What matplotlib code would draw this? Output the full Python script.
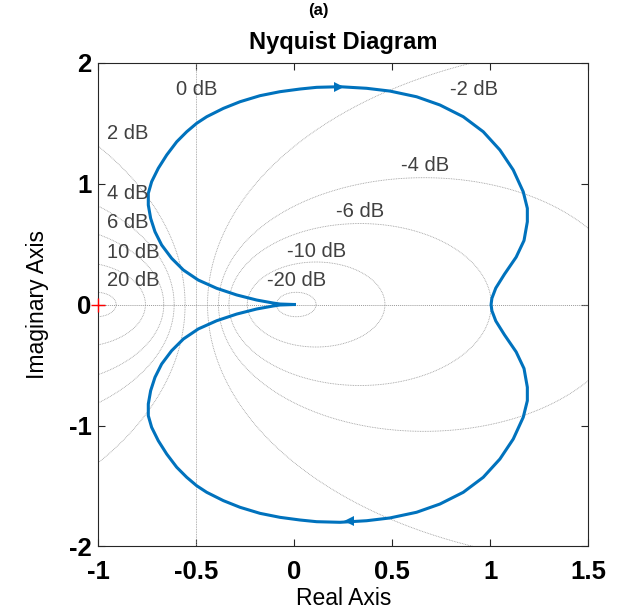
import numpy as np
import matplotlib.pyplot as plt

plt.rcParams['font.family'] = ['Liberation Sans', 'DejaVu Sans']

# upper half of the Nyquist curve, lower half is the mirror
re_up = [0.0, -0.073, -0.107, -0.192, -0.294, -0.396, -0.49, -0.566, -0.626, -0.677,
         -0.711, -0.733, -0.745, -0.745, -0.728, -0.694, -0.651, -0.6, -0.549, -0.498,
         -0.447, -0.362, -0.277, -0.175, -0.073, 0.029, 0.114, 0.233, 0.369, 0.488,
         0.624, 0.743, 0.862, 0.964, 1.049, 1.117, 1.168, 1.189, 1.189, 1.172,
         1.132, 1.072, 1.028, 1.008, 1.004]
im_up = [0.0, 0.004, 0.012, 0.037, 0.079, 0.134, 0.202, 0.285, 0.382, 0.492,
         0.602, 0.712, 0.822, 0.919, 1.015, 1.126, 1.236, 1.345, 1.428, 1.498,
         1.552, 1.621, 1.676, 1.726, 1.759, 1.781, 1.795, 1.80, 1.787, 1.764,
         1.717, 1.649, 1.552, 1.428, 1.277, 1.112, 0.932, 0.795, 0.684, 0.529,
         0.392, 0.25, 0.136, 0.051, 0.0]

# M-circle grid
m_db = [20, 10, 6, 4, 2, -2, -4, -6, -10, -20]
lbl_text = ['0 dB', '-2 dB', '-4 dB', '-6 dB', '-10 dB', '-20 dB']
lbl_x = [-0.499, 0.918, 0.665, 0.338, 0.113, 0.014]
lbl_y = [1.773, 1.778, 1.145, 0.767, 0.436, 0.197]
left_text = ['2 dB', '4 dB', '6 dB', '10 dB', '20 dB']
left_y = [1.417, 0.919, 0.679, 0.431, 0.202]

xticks = [-1, -0.5, 0, 0.5, 1, 1.5]
xtick_lbl = ['-1', '-0.5', '0', '0.5', '1', '1.5']
yticks = [-2, -1, 0, 1, 2]
ytick_lbl = ['-2', '-1', '0', '1', '2']

re = np.array(re_up + re_up[::-1])
im = np.array(im_up + [-v for v in im_up[::-1]])

fig = plt.figure(figsize=(6.36, 6.10), dpi=100)
ax = fig.add_axes([0.1546, 0.1041, 0.7704, 0.7934])

gc = '#9a9a9a'
t = np.linspace(0, 2 * np.pi, 600)
for d in m_db:
    M = 10 ** (d / 20)
    c = -M ** 2 / (M ** 2 - 1)
    r = abs(M / (M ** 2 - 1))
    ax.plot(c + r * np.cos(t), r * np.sin(t), color=gc, lw=0.6, ls=(0, (1, 1)))
ax.axvline(-0.5, color=gc, lw=0.6, ls=(0, (1, 1)))
ax.axhline(0, color=gc, lw=0.7, ls=(0, (1, 1)))

tc = '#404040'
for s, x, y in zip(lbl_text, lbl_x, lbl_y):
    ax.text(x, y, s, ha='center', va='center', fontsize=14.5, color=tc)
for s, y in zip(left_text, left_y):
    ax.text(-0.955, y, s, ha='left', va='center', fontsize=14.5, color=tc)

blue = '#0072BD'
ax.plot(re, im, color=blue, lw=2.2, solid_joinstyle='round')
ax.plot([0.23], [1.80], marker='>', color=blue, ms=7, mew=0)
ax.plot([0.28], [-1.787], marker='<', color=blue, ms=7, mew=0)
ax.plot([-1], [0], marker='+', color='red', ms=10, mew=1, clip_on=False, zorder=5)

ax.set_xlim(-1, 1.5)
ax.set_ylim(-2, 2)
ax.set_xticks(xticks)
ax.set_xticklabels(xtick_lbl, fontweight='bold')
ax.set_yticks(yticks)
ax.set_yticklabels(ytick_lbl, fontweight='bold')
ax.tick_params(direction='in', top=True, right=True, length=5, width=0.8,
               labelsize=18.5, colors='#262626', labelcolor='black')
ax.tick_params(axis='x', pad=10)
ax.tick_params(axis='y', pad=5)
for sp in ax.spines.values():
    sp.set_color('#262626')
    sp.set_linewidth(0.8)

ax.set_xlabel('Real Axis', fontsize=16.5)
ax.set_ylabel('Imaginary Axis', fontsize=16.5)
ax.xaxis.set_label_coords(0.5, -0.083)
ax.yaxis.set_label_coords(-0.10, 0.5)
ax.set_title('Nyquist Diagram', fontsize=17, fontweight='bold', pad=10)
fig.text(0.5, 0.982, '(a)', ha='center', va='center', fontsize=12, fontweight='bold')

fig.savefig('out.png', dpi=100)
